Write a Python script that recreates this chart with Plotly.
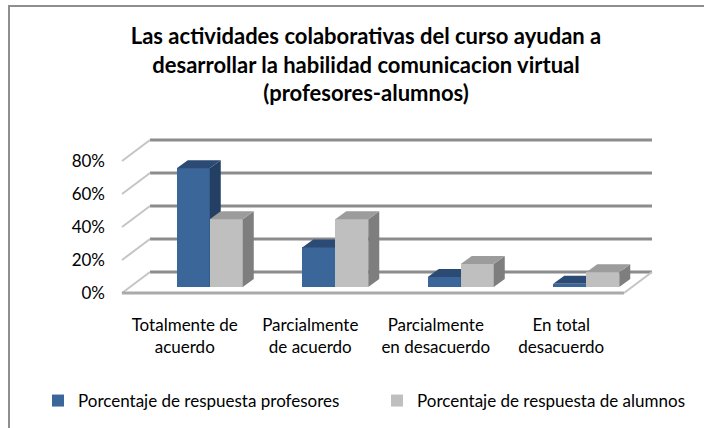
import plotly.graph_objects as go

# ---------------- data ----------------
categories = ["Totalmente de<br>acuerdo", "Parcialmente<br>de acuerdo",
              "Parcialmente<br>en desacuerdo", "En total<br>desacuerdo"]
profesores = [0.72, 0.24, 0.06, 0.02]
alumnos = [0.41, 0.41, 0.14, 0.09]
series_names = ["Porcentaje de respuesta profesores", "Porcentaje de respuesta de alumnos"]
y_ticks = [0, 0.2, 0.4, 0.6, 0.8]
title_text = ("<b>Las actividades colaborativas del curso ayudan a<br>"
              "desarrollar la habilidad comunicacion virtual<br>"
              "(profesores-alumnos)</b>")

# ---------------- layout constants (pixels / styling) ----------------
W, H = 704, 428
L_PX, R_PX, T_PX, B_PX = 110, 680, 118, 305      # plot area
FLOOR_X0_PX, CAT_PX = 122, 125.5                  # front floor left edge, category width
ZERO_PX, PX_PER_UNIT = 293, 165                   # y=0 pixel row, pixels per 100%

x_range = [(L_PX - FLOOR_X0_PX) / CAT_PX - 0.5, (R_PX - FLOOR_X0_PX) / CAT_PX - 0.5]
y_range = [(ZERO_PX - B_PX) / PX_PER_UNIT, (ZERO_PX - T_PX) / PX_PER_UNIT]

FLOOR_DX = 28 / CAT_PX
FLOOR_DY = 21 / PX_PER_UNIT
BAR_BASE = 6 / PX_PER_UNIT
BAR_SHIFT = 25 / CAT_PX
BAR_W = 33 / CAT_PX
BAR_DX = 11 / CAT_PX
BAR_DY = 8 / PX_PER_UNIT

FONT = "Lato"
BLUE = dict(front="#3B6699", top="#2B4B74", side="#233F63")
GRAY = dict(front="#BFBFBF", top="#9C9C9C", side="#7E7E7E")

n = len(categories)
x_left = -0.5
x_right = n - 0.5

fig = go.Figure()

# ---------------- walls / floor as shapes below traces ----------------
shapes = []
for v in y_ticks:
    shapes.append(dict(type="line", xref="x", yref="y", layer="below",
                       x0=x_left + FLOOR_DX, x1=x_right + FLOOR_DX,
                       y0=v + FLOOR_DY, y1=v + FLOOR_DY,
                       line=dict(color="#8C8C8C", width=3)))
    shapes.append(dict(type="line", xref="x", yref="y", layer="below",
                       x0=x_left, x1=x_left + FLOOR_DX, y0=v, y1=v + FLOOR_DY,
                       line=dict(color="#C4C4C4", width=2)))
shapes.append(dict(type="line", xref="x", yref="y", layer="below",
                   x0=x_left, x1=x_right, y0=0, y1=0,
                   line=dict(color="#AAAAAA", width=3)))
shapes.append(dict(type="line", xref="x", yref="y", layer="below",
                   x0=x_right, x1=x_right + FLOOR_DX, y0=0, y1=FLOOR_DY,
                   line=dict(color="#C4C4C4", width=2)))


def px_to_paper_x(px):
    return (px - L_PX) / (R_PX - L_PX)


def px_to_paper_y(py):
    return (B_PX - py) / (B_PX - T_PX)


# chart-area frame (left and top edges visible)
shapes.append(dict(type="line", xref="paper", yref="paper", layer="above",
                   x0=px_to_paper_x(9), x1=px_to_paper_x(9),
                   y0=px_to_paper_y(6), y1=px_to_paper_y(H + 5),
                   line=dict(color="#8F8F8F", width=2)))
shapes.append(dict(type="line", xref="paper", yref="paper", layer="above",
                   x0=px_to_paper_x(8), x1=px_to_paper_x(W + 5),
                   y0=px_to_paper_y(6), y1=px_to_paper_y(6),
                   line=dict(color="#8F8F8F", width=2)))


def add_series(values, idx, colors, name, xa, ya, legend_id):
    centers = [i + BAR_SHIFT + (idx - 0.5) * BAR_W for i in range(n)]
    fig.add_trace(go.Bar(x=centers, y=values, base=BAR_BASE, width=BAR_W,
                         marker=dict(color=colors["front"], line=dict(width=0)),
                         name=name, xaxis=xa, yaxis=ya, hoverinfo="skip",
                         legend=legend_id))
    tx, ty, sx, sy = [], [], [], []
    for c, v in zip(centers, values):
        xl, xr = c - BAR_W / 2, c + BAR_W / 2
        yb, yt = BAR_BASE, BAR_BASE + v
        tx += [xl, xr, xr + BAR_DX, xl + BAR_DX, xl, None]
        ty += [yt, yt, yt + BAR_DY, yt + BAR_DY, yt, None]
        sx += [xr, xr, xr + BAR_DX, xr + BAR_DX, xr, None]
        sy += [yb, yt, yt + BAR_DY, yb + BAR_DY, yb, None]
    fig.add_trace(go.Scatter(x=sx, y=sy, mode="lines", fill="toself",
                             fillcolor=colors["side"], line=dict(width=0),
                             showlegend=False, hoverinfo="skip", xaxis=xa, yaxis=ya))
    fig.add_trace(go.Scatter(x=tx, y=ty, mode="lines", fill="toself",
                             fillcolor=colors["top"], line=dict(width=0),
                             showlegend=False, hoverinfo="skip", xaxis=xa, yaxis=ya))


add_series(profesores, 0, BLUE, series_names[0], "x", "y", "legend")
add_series(alumnos, 1, GRAY, series_names[1], "x2", "y2", "legend2")

LEG_Y = (H - 401) / H
legend_common = dict(orientation="h", xref="container", yref="container",
                     xanchor="left", y=LEG_Y, yanchor="middle",
                     font=dict(family=FONT, size=17), itemwidth=30,
                     bgcolor="rgba(0,0,0,0)")

fig.update_layout(
    width=W, height=H,
    margin=dict(l=L_PX, r=W - R_PX, t=T_PX, b=H - B_PX),
    paper_bgcolor="white", plot_bgcolor="rgba(0,0,0,0)",
    font=dict(family=FONT, size=17, color="#000000"),
    title=dict(text=title_text, x=366 / W, xanchor="center", xref="container",
               y=1 - 44 / H, yanchor="top", yref="container",
               font=dict(family=FONT, size=22, color="#000000")),
    barmode="overlay",
    showlegend=True,
    legend=dict(x=38 / W, **legend_common),
    legend2=dict(x=377 / W, **legend_common),
    shapes=shapes,
    xaxis=dict(range=x_range, tickvals=list(range(n)), ticktext=categories,
               showgrid=False, zeroline=False, showline=False, ticks="",
               ticklabelstandoff=8, tickfont=dict(size=17)),
    yaxis=dict(range=y_range, tickvals=y_ticks, tickformat=".0%",
               showgrid=False, zeroline=False, showline=False, ticks="",
               ticklabelstandoff=4, tickfont=dict(size=17)),
    xaxis2=dict(overlaying="x", matches="x", visible=False),
    yaxis2=dict(overlaying="y", matches="y", visible=False),
    bargap=0,
)

fig.write_html("out.html", config={"displayModeBar": False},
               post_script="document.body.style.margin='0';document.body.style.overflow='hidden';")
